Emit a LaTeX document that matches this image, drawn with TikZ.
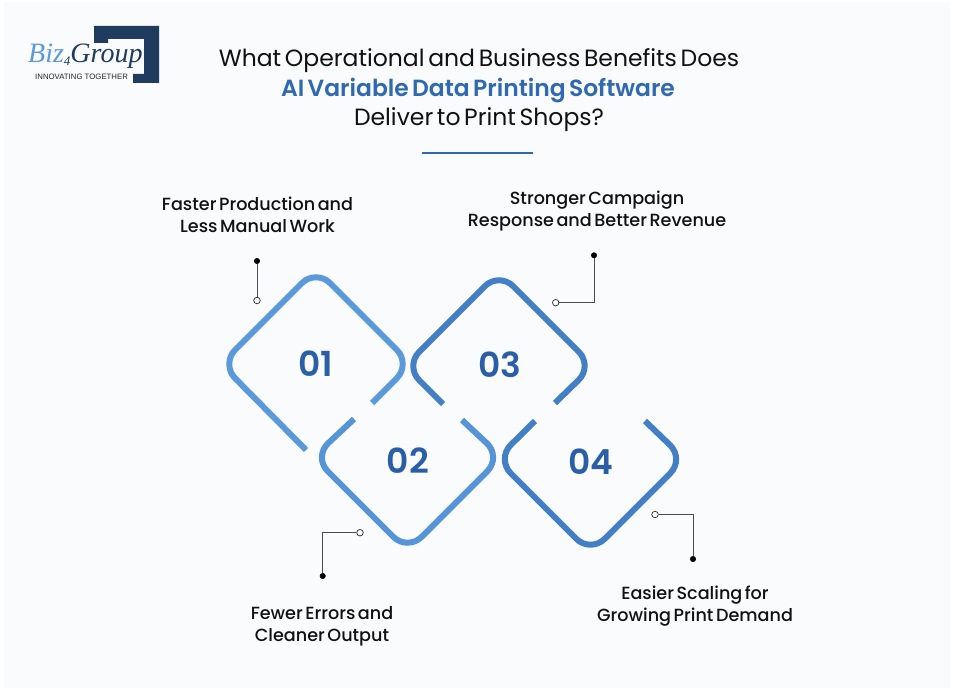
\documentclass[tikz,border=0pt]{standalone}
\usepackage{fontspec}
\setmainfont{Poppins}
\newfontfamily\regf{Poppins}
\newfontfamily\medf{Poppins Medium}
\newfontfamily\semif{Poppins SemiBold}
\newfontfamily\numf{Poppins SemiBold}
\newfontfamily\logof{Liberation Serif}
\newfontfamily\logos{Liberation Sans}
\newcommand{\wsp}[1]{\setlength{\spaceskip}{#1em}}
\definecolor{bgc}{HTML}{F9FBFD}
\definecolor{navy}{HTML}{1F3B5E}
\definecolor{numc}{HTML}{2A5FA8}
\definecolor{titleblue}{HTML}{2F69B1}
\definecolor{dOne}{HTML}{5A9ADB}
\definecolor{dTwo}{HTML}{5594D6}
\definecolor{dThree}{HTML}{437FC4}
\definecolor{dFour}{HTML}{437FC4}
\definecolor{ink}{HTML}{111111}
\tikzset{
  x=1pt,y=-1pt,
  dia/.style={line width=6pt,rounded corners=20pt,line cap=butt},
  num/.style={font=\numf\fontsize{34.5}{38}\selectfont,text=numc,inner sep=0pt},
  lbl/.style={font=\medf\fontsize{17.6}{22}\selectfont,text=ink,align=center,inner sep=0pt},
  ttl/.style={font=\regf\fontsize{23.5}{30}\selectfont,text=ink,inner sep=0pt},
  lead/.style={draw=black!70,line width=0.9pt},
  dotf/.style={circle,fill=black,draw=black,minimum size=5.5pt,inner sep=0pt},
  doto/.style={circle,fill=white,draw=black!85,line width=0.7pt,minimum size=6.5pt,inner sep=0pt},
}
\begin{document}
\begin{tikzpicture}
\useasboundingbox (0,0) rectangle (955,690);
\fill[white] (0,0) rectangle (955,690);
\fill[bgc] (4,2) rectangle (950,688);
% logo
\fill[navy] (94,26)--(159,26)--(159,83)--(133,83)--(133,74)--(144,74)--(144,39)--(108,39)--(108,43)--(94,43)--cycle;
\node[inner sep=0pt,anchor=base west,font=\logof\itshape\fontsize{28}{28}\selectfont,text=navy] (biz) at (28,63) {\textcolor{dOne}{Biz}\raisebox{-3pt}{\fontsize{13}{13}\selectfont 4}Group};
\node[inner sep=0pt,anchor=base west,font=\logos\fontsize{7.8}{9}\selectfont,text=black!85] (tag) at (35,80) {INNOVATING TOGETHER};
% title
\node[ttl] (t1) at (479,60.5) {\wsp{.156}What Operational and Business Benefits Does};
\node[ttl,font=\semif\fontsize{23.4}{30}\selectfont,text=titleblue] (t2) at (478,91) {\wsp{.143}AI Variable Data Printing Software};
\node[ttl] (t3) at (479,119.5) {\wsp{.156}Deliver to Print Shops?};
\coordinate (ra) at (422,153);
\coordinate (rb) at (533,153);
\draw[titleblue,line width=1.8pt] (ra)--(rb);
% diamonds
\draw[dia,dOne] (306,450)--(221,364)--(316,269)--(411,364)--(372,403);
\draw[dia,dTwo] (354,419)--(313.5,457)--(407.5,551)--(501.5,457)--(462,420);
\draw[dia,dThree] (443,404)--(405,366)--(499,272)--(593,366)--(555,403);
\draw[dia,dFour] (535,421)--(496.5,459)--(590.5,553)--(684.5,459)--(645,421);
\node[num] (n1) at (316,364) {01};
\node[num] (n2) at (408,461) {02};
\node[num] (n3) at (500,365) {03};
\node[num] (n4) at (591,462) {04};
% leaders
\node[dotf] (a1) at (257,261) {};
\node[doto] (b1) at (257,300.5) {};
\draw[lead] (a1)--(b1);
\node[dotf] (a2) at (322.7,576) {};
\node[doto] (b2) at (360,532.7) {};
\draw[lead] (a2)|-(b2);
\node[dotf] (a3) at (594,255.3) {};
\node[doto] (b3) at (555.7,302.7) {};
\draw[lead] (a3)|-(b3);
\node[dotf] (a4) at (693,559) {};
\node[doto] (b4) at (655,514.5) {};
\draw[lead] (a4)|-(b4);
% labels
\node[lbl] (l1) at (257.5,214.5) {\wsp{.143}Faster Production and\\\wsp{.143}Less Manual Work};
\node[lbl] (l2) at (322,626) {\wsp{.143}Fewer Errors and\\\wsp{.143}Cleaner Output};
\node[lbl] (l3) at (597,211) {\wsp{.143}Stronger Campaign\\\wsp{.143}Response and Better Revenue};
\node[lbl] (l4) at (695,606) {\wsp{.143}Easier Scaling for\\\wsp{.143}Growing Print Demand};
\end{tikzpicture}
\end{document}
